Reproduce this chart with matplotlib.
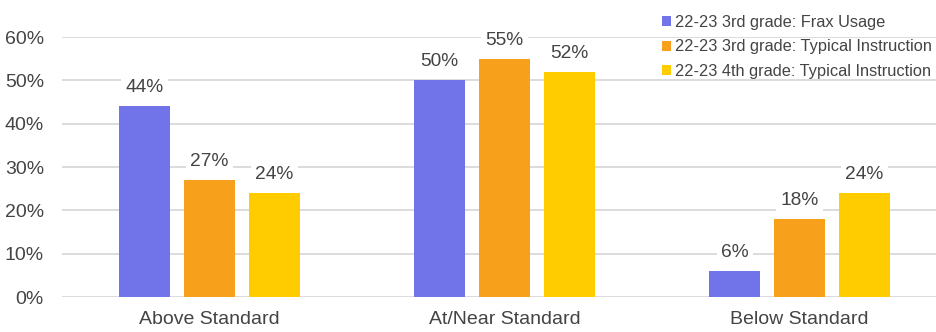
import matplotlib.pyplot as plt
import numpy as np

categories = ["Above Standard", "At/Near Standard", "Below Standard"]
series_names = [
    "22-23 3rd grade: Frax Usage",
    "22-23 3rd grade: Typical Instruction",
    "22-23 4th grade: Typical Instruction",
]
frax_3rd = [44, 50, 6]
typical_3rd = [27, 55, 18]
typical_4th = [24, 52, 24]
colors = ["#7174E8", "#F6A01C", "#FFCC00"]


def main() -> None:
    plt.rcParams["font.family"] = ["Liberation Sans", "DejaVu Sans"]
    fig = plt.figure(figsize=(9.37, 3.32), dpi=100)
    ax = fig.add_axes([62 / 937, 35 / 332, 875 / 937, 260 / 332])

    x = np.arange(len(categories))
    width = 0.173
    pitch = 0.22
    text_color = "#444444"

    for i, (vals, name, c) in enumerate(zip([frax_3rd, typical_3rd, typical_4th], series_names, colors)):
        bars = ax.bar(x + (i - 1) * pitch, vals, width, color=c, label=name, zorder=2)
        for b, v in zip(bars, vals):
            ax.text(b.get_x() + b.get_width() / 2, v + 4.3, f"{v}%", ha="center", va="center",
                    fontsize=13.8, color=text_color, zorder=3,
                    bbox=dict(facecolor="white", edgecolor="none", pad=3))

    ax.set_xlim(-0.5, -0.5 + 875 / 295)
    ax.set_ylim(0, 60)
    ax.set_yticks(range(0, 61, 10))
    ax.set_yticklabels([f"{t}%" for t in range(0, 61, 10)], fontsize=14, color=text_color)
    ax.set_xticks(x)
    ax.set_xticklabels(categories, fontsize=14, color=text_color)
    ax.tick_params(length=0, axis="y", pad=13)
    ax.tick_params(length=0, axis="x", pad=10)
    ax.grid(axis="y", color="#D9D9D9", linewidth=1.3, zorder=0)
    for s in ax.spines.values():
        s.set_visible(False)

    fig.legend(loc="upper left", bbox_to_anchor=(655 / 937, 1 - 8 / 332), frameon=False,
               fontsize=11.8, labelcolor=text_color, handlelength=0.55, handleheight=0.55,
               handletextpad=0.3, labelspacing=0.6, borderaxespad=0)

    plt.savefig("out.png", format="png")


if __name__ == '__main__':
    main()
